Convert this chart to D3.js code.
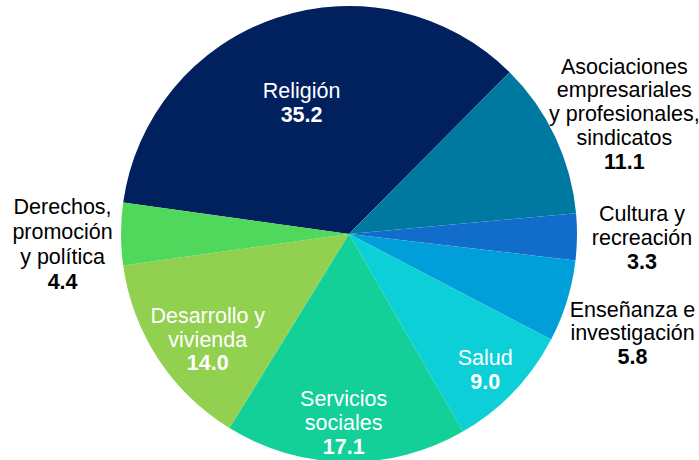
<!DOCTYPE html>
<html>
<head>
<meta charset="utf-8">
<script src="https://cdn.jsdelivr.net/npm/d3@7"></script>
<style>
  html, body { margin: 0; padding: 0; background: #fff; }
  svg { display: block; }
  text { font-family: "Liberation Sans", Arial, sans-serif; }
</style>
</head>
<body>
<svg id="chart" width="699" height="460"></svg>
<script>
// ---- data ----
const categories = ["Religión", "Asociaciones empresariales y profesionales, sindicatos", "Cultura y recreación", "Enseñanza e investigación", "Salud", "Servicios sociales", "Desarrollo y vivienda", "Derechos, promoción y política"];
const values = [35.2, 11.1, 3.3, 5.8, 9.0, 17.1, 14.0, 4.4];
const valueLabels = ["35.2", "11.1", "3.3", "5.8", "9.0", "17.1", "14.0", "4.4"];
const labelLines = [
  ["Religión"],
  ["Asociaciones", "empresariales", "y profesionales,", "sindicatos"],
  ["Cultura y", "recreación"],
  ["Enseñanza e", "investigación"],
  ["Salud"],
  ["Servicios", "sociales"],
  ["Desarrollo y", "vivienda"],
  ["Derechos,", "promoción", "y política"]
];

// ---- styles / layout ----
const colors = ["#00205e", "#0079a0", "#116dc9", "#009fd9", "#0ccfd8", "#13d098", "#92d050", "#4fd85b"];
// label placement: radius as fraction of pie radius, angle nudge (deg), line height, text colour
const labelLayout = [
  { rf: 0.613, da: -1.2, lh: 23.8, fill: "#ffffff" },
  { rf: 1.318, da: 1.6,  lh: 23.8, fill: "#000000" },
  { rf: 1.285, da: -0.1, lh: 23.8, fill: "#000000" },
  { rf: 1.317, da: 2.1,  lh: 23.8, fill: "#000000" },
  { rf: 0.843, da: 1.1,  lh: 23.8, fill: "#ffffff" },
  { rf: 0.827, da: 0.8,  lh: 23.8, fill: "#ffffff" },
  { rf: 0.772, da: -3.5, lh: 23.8, fill: "#ffffff" },
  { rf: 1.257, da: -2.0, lh: 24.7, fill: "#000000" }
];

const cx = 349, cy = 234, R = 228;
const fontSize = 21.5;
const startDeg = -82.06;

const svg = d3.select("#chart");
const g = svg.append("g").attr("transform", `translate(${cx},${cy})`);

const data = categories.map((c, i) => ({ name: c, value: values[i], i }));

const pie = d3.pie()
  .value(d => d.value)
  .sort(null)
  .startAngle(startDeg * Math.PI / 180)
  .endAngle(startDeg * Math.PI / 180 + 2 * Math.PI);

const arcs = pie(data);
const arc = d3.arc().innerRadius(0).outerRadius(R);

g.selectAll("path.slice")
  .data(arcs)
  .join("path")
  .attr("class", "slice")
  .attr("d", arc)
  .attr("fill", d => colors[d.data.i]);

// labels
const lab = g.selectAll("g.label")
  .data(arcs)
  .join("g")
  .attr("class", "label")
  .attr("transform", d => {
    const L = labelLayout[d.data.i];
    const a = (d.startAngle + d.endAngle) / 2 + L.da * Math.PI / 180;
    const r = L.rf * R;
    return `translate(${r * Math.sin(a)},${-r * Math.cos(a)})`;
  });

lab.each(function(d) {
  const L = labelLayout[d.data.i];
  const lines = labelLines[d.data.i].map(t => ({ t, bold: false }))
    .concat([{ t: valueLabels[d.data.i], bold: true }]);
  const n = lines.length;
  const t = d3.select(this).append("text")
    .attr("text-anchor", "middle")
    .attr("fill", L.fill)
    .style("font-size", fontSize + "px");
  lines.forEach((ln, k) => {
    t.append("tspan")
      .attr("x", 0)
      .attr("y", -(n - 1) / 2 * L.lh + k * L.lh + fontSize * 0.35)
      .style("font-weight", ln.bold ? "bold" : "normal")
      .text(ln.t);
  });
});
</script>
</body>
</html>
